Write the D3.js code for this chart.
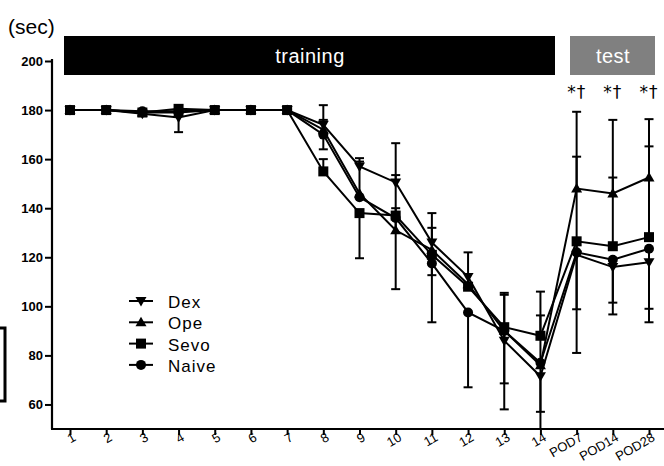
<!DOCTYPE html>
<html>
<head>
<meta charset="utf-8">
<script src="https://cdn.jsdelivr.net/npm/d3@7"></script>
<style>
  body { margin: 0; background: #fff; }
  svg { display: block; font-family: "Liberation Sans", Arial, sans-serif; }
</style>
</head>
<body>
<div id="chart"></div>
<script>
// categories on the x axis
const days = ['1','2','3','4','5','6','7','8','9','10','11','12','13','14','POD7','POD14','POD28'];
const yTicks = [60, 80, 100, 120, 140, 160, 180, 200];

// mean escape latency (sec) per group
const dex   = [180, 180, 178.5, 177,   180, 180, 180, 174, 157,   150.5, 126,   112,  86,   71.5, 121,   116,   118];
const ope   = [180, 180, 179,   179,   180, 180, 180, 172, 146,   131,   123,   109,  90,   76,   148,   146,   152.5];
const sevo  = [180, 180, 179,   180.5, 180, 180, 180, 155, 138,   137,   121,   108,  91.5, 88,   126.5, 124.5, 128.2];
const naive = [180, 180, 179.5, 179.5, 180, 180, 180, 170, 144.5, 136,   117.5, 97.5, 90,   77,   122,   119,   123.5];

// error bar lengths (upper / lower), 0 = not shown
const dexUp    = [0, 0, 0, 5, 0, 0, 0, 8, 3.4, 16, 12, 10, 18.7, 0, 40, 0, 0];
const dexDown  = [0, 0, 0, 6, 0, 0, 0, 0, 0, 0, 0, 0, 0, 25, 40, 19.3, 24.5];
const opeUp    = [0, 0, 0, 0, 0, 0, 0, 0, 0, 22.5, 0, 0, 0, 0, 31.3, 30, 23.8];
const opeDown  = [0, 0, 0, 0, 0, 0, 0, 0, 0, 0, 0, 0, 32, 19, 0, 0, 0];
const sevoUp   = [0, 0, 0, 0, 0, 0, 0, 5, 0, 3, 11, 0, 14, 18, 0, 28, 37];
const sevoDown = [0, 0, 0, 0, 0, 0, 0, 0, 18.4, 0, 8.3, 0, 0, 0, 27.7, 0, 0];
const naiveUp  = [0, 0, 0, 0, 0, 0, 0, 6, 14.5, 0, 0, 0, 0, 19.3, 0, 0, 0];
const naiveDown= [0, 0, 0, 0, 0, 0, 0, 6, 0, 29, 24, 30.5, 21.4, 0, 0, 17.5, 24.5];

const groups = [
  { name: 'Dex',   mean: dex,   up: dexUp,   down: dexDown,   symbol: 'down' },
  { name: 'Ope',   mean: ope,   up: opeUp,   down: opeDown,   symbol: 'up' },
  { name: 'Sevo',  mean: sevo,  up: sevoUp,  down: sevoDown,  symbol: 'square' },
  { name: 'Naive', mean: naive, up: naiveUp, down: naiveDown, symbol: 'circle' }
];
const marks = ['*†', '*†', '*†'];

const width = 664, height = 466;
const svg = d3.select('#chart').append('svg')
  .attr('width', width).attr('height', height);

const x = d3.scalePoint().domain(days).range([70, 649]);
const y = d3.scaleLinear().domain([50, 200]).range([429, 61]);
const axisX = 52;

// (sec) label
svg.append('text').attr('x', 8).attr('y', 34)
  .attr('font-size', 21).text('(sec)');

// stray bracket from neighbouring panel
svg.append('path').attr('d', 'M0,328 H5 V401 H0')
  .attr('fill', 'none').attr('stroke', '#000').attr('stroke-width', 3);

// phase banners
svg.append('rect').attr('x', 64).attr('y', 36).attr('width', 491).attr('height', 39).attr('fill', '#000');
svg.append('text').attr('x', 310).attr('y', 63).attr('text-anchor', 'middle')
  .attr('fill', '#fff').attr('font-size', 20).attr('letter-spacing', 0.5).text('training');
svg.append('rect').attr('x', 570).attr('y', 36).attr('width', 85).attr('height', 39).attr('fill', '#808080');
svg.append('text').attr('x', 613).attr('y', 63).attr('text-anchor', 'middle')
  .attr('fill', '#fff').attr('font-size', 20).attr('letter-spacing', 0.5).text('test');

// y axis
const gy = svg.append('g').attr('transform', `translate(${axisX},0)`)
  .call(d3.axisLeft(y).tickValues(yTicks).tickSize(7).tickSizeOuter(0));
gy.select('.domain').attr('stroke-width', 2.2).attr('d', `M0,${y(200) - 2}V${y(50)}`);
gy.selectAll('.tick line').attr('stroke-width', 2);
gy.selectAll('.tick text').attr('font-size', 13).attr('font-weight', 'bold')
  .attr('font-family', 'Liberation Sans, Arial, sans-serif').attr('x', -9);

// x axis
const gx = svg.append('g').attr('transform', `translate(0,${y(50)})`)
  .call(d3.axisBottom(x).tickSize(6).tickSizeOuter(0));
gx.select('.domain').attr('stroke-width', 2.2).attr('d', `M${axisX - 1},0H${width}`);
gx.selectAll('.tick line').attr('stroke-width', 2);
gx.selectAll('.tick text')
  .attr('font-size', 13).attr('fill', '#000')
  .attr('font-family', 'Liberation Sans, Arial, sans-serif')
  .attr('text-anchor', 'end').attr('y', 0).attr('dy', '0.35em')
  .attr('transform', 'translate(4,7) rotate(-30)');

const plot = svg.append('g');
const line = d3.line().x((d, i) => x(days[i])).y(d => y(d));

// error bars
const capW = 4.5;
groups.forEach(g => {
  g.mean.forEach((m, i) => {
    const cx = x(days[i]);
    [[g.up[i], 1], [g.down[i], -1]].forEach(([e, s]) => {
      if (!e) return;
      const end = Math.max(50, m + s * e);
      plot.append('line').attr('x1', cx).attr('x2', cx)
        .attr('y1', y(m)).attr('y2', y(end))
        .attr('stroke', '#000').attr('stroke-width', 2);
      if (end > 50) {
        plot.append('line').attr('x1', cx - capW).attr('x2', cx + capW)
          .attr('y1', y(end)).attr('y2', y(end))
          .attr('stroke', '#000').attr('stroke-width', 2);
      }
    });
  });
});

// lines
groups.forEach(g => {
  plot.append('path').datum(g.mean).attr('d', line)
    .attr('fill', 'none').attr('stroke', '#000').attr('stroke-width', 2);
});

function drawSymbol(sel, type, cx, cy) {
  if (type === 'square') {
    sel.append('rect').attr('x', cx - 5).attr('y', cy - 5).attr('width', 10).attr('height', 10).attr('fill', '#000');
  } else if (type === 'circle') {
    sel.append('circle').attr('cx', cx).attr('cy', cy).attr('r', 5).attr('fill', '#000');
  } else if (type === 'up') {
    sel.append('path').attr('d', `M${cx},${cy - 5.5}L${cx + 5.5},${cy + 4}L${cx - 5.5},${cy + 4}Z`).attr('fill', '#000');
  } else {
    sel.append('path').attr('d', `M${cx},${cy + 5.5}L${cx + 5.5},${cy - 4}L${cx - 5.5},${cy - 4}Z`).attr('fill', '#000');
  }
}

// markers
groups.forEach(g => {
  g.mean.forEach((m, i) => drawSymbol(plot, g.symbol, x(days[i]), y(m)));
});

// significance marks above test days
marks.forEach((t, i) => {
  svg.append('text').attr('x', x(days[14 + i])).attr('y', 98)
    .attr('text-anchor', 'middle').attr('font-size', 17).attr('fill', '#000')
    .attr('font-family', 'DejaVu Sans, sans-serif').attr('letter-spacing', 1).text(t);
});

// legend
const legend = svg.append('g').attr('transform', 'translate(129,301)');
groups.forEach((g, i) => {
  const row = legend.append('g').attr('transform', `translate(0,${i * 21.3})`);
  row.append('line').attr('x1', 0).attr('x2', 24).attr('y1', 0).attr('y2', 0)
    .attr('stroke', '#000').attr('stroke-width', 2);
  drawSymbol(row, g.symbol, 12, 0);
  row.append('text').attr('x', 39).attr('y', 1).attr('dy', '0.35em')
    .attr('font-size', 17).attr('letter-spacing', 1).text(g.name);
});
</script>
</body>
</html>
